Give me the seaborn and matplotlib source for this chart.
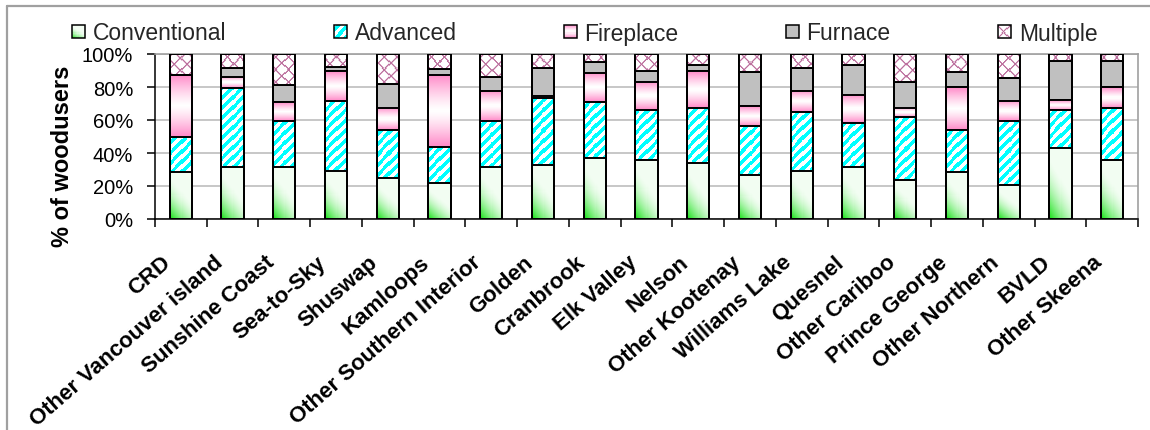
import numpy as np
import pandas as pd
import matplotlib
matplotlib.use("Agg")
import matplotlib.pyplot as plt
import matplotlib.transforms as mtransforms
from matplotlib.patches import Rectangle
from matplotlib.lines import Line2D
from matplotlib.legend_handler import HandlerBase
import seaborn as sns

# ---- data: share of wood users by appliance type (%), per region ----
regions = ["CRD", "Other Vancouver island", "Sunshine Coast", "Sea-to-Sky",
           "Shuswap", "Kamloops", "Other Southern Interior", "Golden",
           "Cranbrook", "Elk Valley", "Nelson", "Other Kootenay",
           "Williams Lake", "Quesnel", "Other Cariboo", "Prince George",
           "Other Northern", "BVLD", "Other Skeena"]
conventional = [28.5, 31.7, 31.7, 29.3, 24.8, 21.6, 31.7, 32.9, 37.0, 35.8,
                33.7, 26.9, 29.3, 31.7, 23.8, 28.5, 20.4, 42.8, 35.9]
advanced = [21.0, 47.7, 27.7, 42.4, 29.1, 22.2, 27.7, 40.2, 33.7, 30.3,
            33.8, 29.3, 35.3, 26.5, 37.8, 25.4, 39.0, 23.3, 31.6]
fireplace = [38.0, 6.8, 11.3, 18.0, 13.4, 43.7, 18.2, 1.6, 17.8, 17.1,
             22.0, 12.1, 13.2, 17.0, 5.7, 25.9, 12.3, 6.0, 12.3]
furnace = [0.0, 5.1, 10.5, 2.2, 14.5, 3.4, 8.7, 16.6, 6.4, 6.7,
           4.0, 20.6, 13.5, 18.3, 15.9, 9.1, 13.8, 23.5, 15.8]
multiple = [12.5, 8.7, 18.8, 8.1, 18.2, 9.1, 13.7, 8.7, 5.1, 10.1,
            6.5, 11.1, 8.7, 6.5, 16.8, 11.1, 14.5, 4.4, 4.4]
series_names = ["Conventional", "Advanced", "Fireplace", "Furnace", "Multiple"]
y_ticks = [0, 20, 40, 60, 80, 100]
y_tick_labels = ["0%", "20%", "40%", "60%", "80%", "100%"]
y_title = "% of woodusers"

# ---- styling ----
W, H, DPI = 1150, 431, 100
BAR_W = 0.43
EDGE_LW = 1.4
GREEN = np.array([0.05, 0.88, 0.05])
PINK = np.array([1.0, 0.53, 0.78])
CYAN = np.array([0.0, 1.0, 1.0])
PLUM = np.array([0.74, 0.44, 0.62])
WHITE = np.ones(3)
fill_kind = {"Conventional": "corner", "Advanced": "stripes",
             "Fireplace": "band", "Furnace": None, "Multiple": "cross"}
base_color = {"Conventional": "white", "Advanced": "white",
              "Fireplace": "white", "Furnace": "#C0C0C0", "Multiple": "white"}


def shade(kind, px, py, u, v):
    """RGB texture for a fill kind; px/py in pixels, u/v in 0..1 of the box."""
    if kind == "corner":
        t = np.clip((v + 0.55 * u) / 0.9, 0, 1)
        g = 0.05 + 0.95 * (1 - t) ** 1.7
        return WHITE + (GREEN - WHITE) * g[..., None]
    if kind == "band":
        g = np.abs(2 * v - 1) ** 1.25
        return WHITE + (PINK - WHITE) * g[..., None]
    if kind == "stripes":
        s = (px / 9.5 - py / 10.0) % 1.0
        c = (s < 0.5).astype(float)
        return WHITE + (CYAN - WHITE) * c[..., None]
    if kind == "cross":
        P = 12.0
        a = (px + py) % P
        b = (px - py) % P
        d = np.minimum(np.minimum(a, P - a), np.minimum(b, P - b))
        c = np.clip(1.4 - d, 0, 1)
        return WHITE + (PLUM - WHITE) * c[..., None]
    return np.ones(px.shape + (3,))


sns.set_theme(style="ticks")
plt.rcParams["font.family"] = ["Liberation Sans", "DejaVu Sans"]

fig = plt.figure(figsize=(W / DPI, H / DPI), dpi=DPI, facecolor="white")
ax = fig.add_axes([155 / W, 1 - 220 / H, (1138 - 155) / W, 165 / H])

df = pd.DataFrame({"region": regions, "Conventional": conventional,
                   "Advanced": advanced, "Fireplace": fireplace,
                   "Furnace": furnace, "Multiple": multiple})
tops = df[series_names].cumsum(axis=1)
bases = tops.shift(1, axis=1, fill_value=0)

# stacked bars: draw cumulative totals from the top series down
for name in reversed(series_names):
    sns.barplot(x=df["region"], y=tops[name], color=base_color[name],
                saturation=1, width=BAR_W, edgecolor="black",
                linewidth=EDGE_LW, errorbar=None, ax=ax, zorder=2)

ax.set_xlim(-0.5, len(regions) - 0.5)
ax.set_ylim(0, 100)

# textured fills for each segment
for name in series_names:
    kind = fill_kind[name]
    if kind is None:
        continue
    for i in range(len(regions)):
        y0, y1 = bases[name].iloc[i], tops[name].iloc[i]
        if y1 - y0 <= 0:
            continue
        x0, x1 = i - BAR_W / 2, i + BAR_W / 2
        (X0, Y0), (X1, Y1) = ax.transData.transform([(x0, y0), (x1, y1)])
        nx = max(1, int(round(X1 - X0)))
        ny = max(1, int(round(Y1 - Y0)))
        px = X0 + (np.arange(nx) + 0.5) * (X1 - X0) / nx
        py = Y0 + (np.arange(ny) + 0.5) * (Y1 - Y0) / ny
        PX, PY = np.meshgrid(px, py)
        U = (PX - X0) / (X1 - X0)
        V = (PY - Y0) / (Y1 - Y0)
        img = shade(kind, PX, PY, U, V)
        ax.imshow(img, extent=(x0, x1, y0, y1), origin="lower",
                  aspect="auto", interpolation="nearest", zorder=2.5)

# segment outlines on top of the textures
for name in reversed(series_names):
    sns.barplot(x=df["region"], y=tops[name], fill=False, color="black",
                saturation=1, width=BAR_W, linewidth=EDGE_LW,
                errorbar=None, ax=ax, zorder=3)

ax.set_xlim(-0.5, len(regions) - 0.5)
ax.set_ylim(0, 100)
ax.set_aspect("auto")

# axes, grid and ticks
ax.set_yticks(y_ticks)
ax.set_yticklabels(y_tick_labels, fontsize=14.5, color="black")
ax.yaxis.grid(True, color="#B8B8B8", linewidth=1.1)
ax.xaxis.grid(False)
ax.set_axisbelow(True)
ax.tick_params(axis="y", which="major", left=True, length=5.8, width=1.1,
               direction="out", pad=10, color="black")
ax.set_xticks(range(len(regions)))
ax.set_xticks(np.arange(-0.5, len(regions), 1.0), minor=True)
ax.set_xticklabels(regions, rotation=41, ha="right", va="baseline",
                   rotation_mode="anchor", fontsize=16, fontweight="bold",
                   color="black")
ax.tick_params(axis="x", which="major", bottom=True, length=0, pad=32)
ax.tick_params(axis="x", which="minor", bottom=True, length=5.8, width=1.1,
               direction="out", color="black")
shift = mtransforms.ScaledTranslation(-9 / DPI, 0, fig.dpi_scale_trans)
for lab in ax.get_xticklabels():
    lab.set_transform(lab.get_transform() + shift)
ax.set_xlabel("")
ax.set_ylabel(y_title, fontsize=17, fontweight="bold", color="black")
ax.yaxis.set_label_coords((74 - 155) / (1138 - 155), 1 - (156 - 55) / 165)

for side in ("left", "bottom"):
    ax.spines[side].set_color("black")
    ax.spines[side].set_linewidth(1.1)
for side in ("top", "right"):
    ax.spines[side].set_visible(True)
    ax.spines[side].set_color("#A0A0A0")
    ax.spines[side].set_linewidth(1.2)


# legend with small textured swatches
class SwatchHandler(HandlerBase):
    def __init__(self, kind, color):
        super().__init__()
        self.kind = kind
        self.color = color

    def create_artists(self, legend, orig_handle, xdescent, ydescent,
                       width, height, fontsize, trans):
        side = min(width, height)
        x0 = -xdescent
        y0 = -ydescent + (height - side) / 2
        arts = []
        if self.kind is None:
            arts.append(Rectangle((x0, y0), side, side, facecolor=self.color,
                                  edgecolor="none", transform=trans))
        else:
            n = 12
            cell = side / n
            idx = (np.arange(n) + 0.5)
            PX, PY = np.meshgrid(idx * cell * DPI / 72, idx * cell * DPI / 72)
            U, V = PX / (side * DPI / 72), PY / (side * DPI / 72)
            rgb = shade(self.kind, PX, PY, U, V)
            for r in range(n):
                for c in range(n):
                    arts.append(Rectangle((x0 + c * cell, y0 + r * cell),
                                          cell * 1.02, cell * 1.02,
                                          facecolor=rgb[r, c],
                                          edgecolor="none", lw=0,
                                          transform=trans))
        arts.append(Rectangle((x0, y0), side, side, facecolor="none",
                              edgecolor="black", lw=1.1, transform=trans))
        return arts


handles = [Rectangle((0, 0), 1, 1) for _ in series_names]
handler_map = {h: SwatchHandler(fill_kind[n], base_color[n])
               for h, n in zip(handles, series_names)}
fs = 16.5
fs_px = fs * DPI / 72
fig.legend(handles, series_names, handler_map=handler_map, ncol=5,
           loc="center left", bbox_to_anchor=(72 / W, 1 - 34 / H),
           bbox_transform=fig.transFigure, frameon=False, fontsize=fs,
           handlelength=13 / fs_px, handleheight=13 / fs_px,
           handletextpad=8 / fs_px, columnspacing=107 / fs_px,
           borderpad=0, borderaxespad=0)

# chart-area border (top and left edges)
fig.add_artist(Line2D([7 / W, 1.0], [1 - 7 / H, 1 - 7 / H],
                      transform=fig.transFigure, color="#A0A0A0", lw=1.6))
fig.add_artist(Line2D([7 / W, 7 / W], [0.0, 1 - 7 / H],
                      transform=fig.transFigure, color="#A0A0A0", lw=1.6))

fig.savefig("out.png", dpi=DPI, facecolor="white")
